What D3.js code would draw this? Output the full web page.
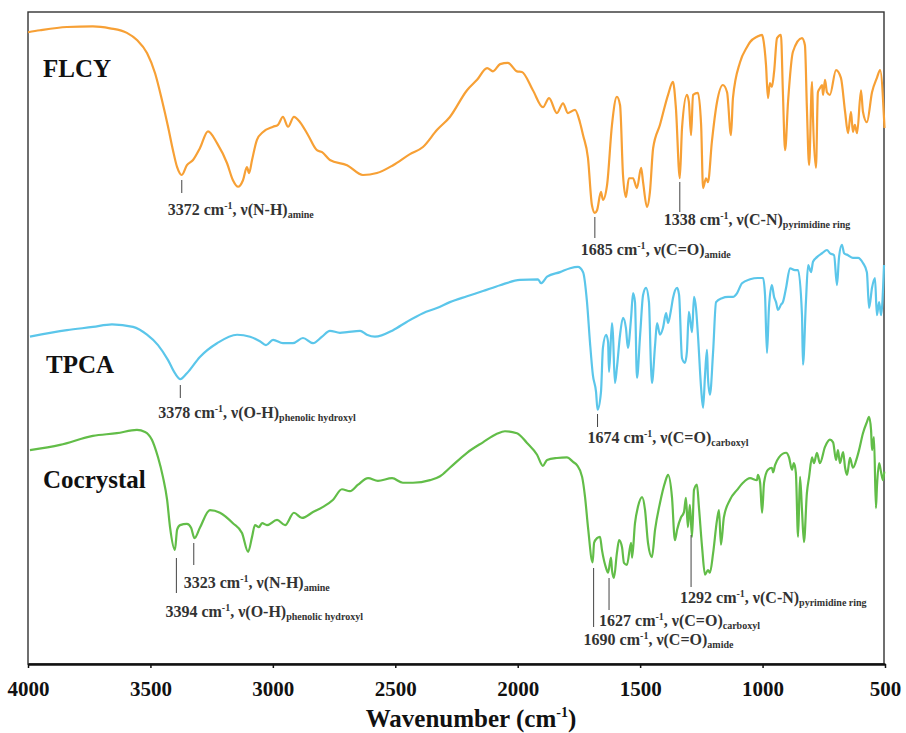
<!DOCTYPE html>
<html>
<head>
<meta charset="utf-8">
<script src="https://cdn.jsdelivr.net/npm/d3@7/dist/d3.min.js"></script>
<style>
  body { margin: 0; background: #fff; }
  svg text { font-family: "Liberation Serif", "Times New Roman", serif; font-weight: bold; }
</style>
</head>
<body>
<div id="chart"></div>
<script>
// FTIR spectra, [wavenumber (cm-1), transmittance (a.u., offset)]
const flcy = [
  [4000,96.9],[3951,97.2],[3841,97.7],[3735,97.8],[3665,97.5],[3596,96.8],[3555,95.7],[3514,93.7],
  [3481,90.6],[3453,86.5],[3428,82.4],[3408,78.8],[3391,76.2],[3372,75.0],[3351,76.5],[3326,77.3],
  [3298,79.1],[3265,81.7],[3228,79.9],[3187,76.8],[3163,74.2],[3142,73.2],[3122,74.2],[3106,76.2],
  [3097,75.3],[3085,77.3],[3065,80.4],[3040,81.6],[2999,82.4],[2979,82.7],[2959,83.9],[2938,82.4],
  [2914,83.9],[2889,83.1],[2856,81.1],[2820,78.8],[2799,78.5],[2767,77.3],[2697,76.5],[2632,75.0],
  [2575,75.3],[2509,76.5],[2440,78.2],[2387,79.3],[2330,81.9],[2277,83.9],[2207,88.0],[2166,89.6],
  [2125,91.4],[2101,90.9],[2072,92.0],[2040,92.2],[2003,90.9],[1983,90.8],[1938,88.0],[1897,85.4],
  [1872,86.8],[1840,84.5],[1815,86.0],[1795,84.5],[1766,85.0],[1746,83.1],[1733,81.1],[1713,77.6],
  [1697,70.4],[1685,69.2],[1676,69.6],[1660,72.4],[1652,71.2],[1635,73.5],[1615,82.7],[1595,87.0],
  [1582,85.7],[1570,75.0],[1558,71.6],[1546,74.5],[1529,74.5],[1513,73.0],[1496,76.1],[1488,73.9],
  [1472,70.1],[1460,72.4],[1447,79.1],[1419,82.7],[1386,87.3],[1366,89.3],[1354,85.3],[1338,74.5],
  [1329,82.2],[1309,87.3],[1301,86.2],[1292,81.1],[1284,87.3],[1264,87.6],[1251,82.7],[1243,73.0],
  [1231,74.5],[1223,73.9],[1207,80.1],[1186,86.2],[1162,88.8],[1145,87.7],[1129,81.1],[1121,86.8],
  [1092,92.3],[1064,94.6],[1051,95.4],[1023,96.2],[1002,96.5],[998,96.0],[986,91.9],[978,86.8],
  [970,89.1],[962,88.5],[953,90.8],[941,96.0],[925,96.5],[917,87.7],[908,78.8],[896,86.2],
  [876,93.9],[839,96.0],[827,94.9],[819,85.3],[810,76.5],[798,89.3],[794,83.7],[782,76.1],
  [774,87.7],[766,88.3],[757,88.8],[753,87.3],[745,89.6],[737,87.7],[725,87.3],[700,91.1],
  [680,89.9],[663,84.7],[651,81.4],[639,84.7],[631,81.6],[623,82.7],[614,81.4],[598,88.0],
  [590,84.7],[574,83.1],[553,87.7],[533,89.9],[520,91.1],[502,82.2]
];
const tpca = [
  [3992,50.2],[3841,51.2],[3735,51.7],[3657,52.1],[3571,51.7],[3514,50.5],[3469,48.9],[3428,46.6],
  [3400,44.6],[3378,43.7],[3351,44.6],[3298,47.1],[3228,49.2],[3146,50.5],[3093,50.2],[3053,49.5],
  [3028,48.9],[2999,49.7],[2959,49.2],[2918,49.2],[2877,50.0],[2836,49.2],[2799,50.2],[2767,51.1],
  [2726,50.8],[2697,50.9],[2644,51.1],[2616,50.5],[2583,50.2],[2509,51.2],[2452,52.5],[2387,53.8],
  [2330,54.6],[2277,55.5],[2207,56.4],[2142,57.2],[2072,58.1],[1991,58.9],[1917,59.0],[1905,58.4],
  [1880,59.4],[1827,60.1],[1786,60.7],[1754,60.9],[1733,60.1],[1717,55.5],[1705,49.4],[1693,44.3],
  [1680,41.7],[1674,39.0],[1660,41.7],[1652,48.5],[1639,50.5],[1631,49.4],[1627,44.8],[1615,52.3],
  [1611,50.5],[1603,43.1],[1595,45.4],[1582,50.5],[1570,53.1],[1558,51.5],[1550,48.5],[1537,53.1],
  [1529,56.9],[1521,55.5],[1513,43.9],[1500,50.5],[1488,56.6],[1476,57.7],[1464,55.5],[1456,45.9],
  [1452,43.1],[1439,48.9],[1431,52.3],[1419,50.5],[1407,51.5],[1394,53.8],[1386,52.3],[1374,54.3],
  [1366,56.1],[1349,57.7],[1341,56.6],[1329,46.9],[1317,46.2],[1309,47.9],[1301,54.0],[1288,50.9],
  [1280,56.3],[1272,54.6],[1264,50.5],[1251,42.3],[1243,39.3],[1235,44.3],[1227,48.2],[1223,43.9],
  [1215,41.3],[1202,47.9],[1190,55.5],[1166,56.1],[1141,56.3],[1121,56.3],[1104,56.9],[1084,58.4],
  [1051,59.0],[1019,59.2],[998,59.2],[990,56.6],[982,47.7],[974,54.6],[962,58.1],[953,56.3],
  [945,55.5],[937,54.3],[925,55.1],[917,55.5],[904,57.7],[888,60.7],[868,60.4],[855,60.4],
  [839,53.5],[835,45.9],[823,55.5],[814,61.2],[802,60.1],[794,61.7],[778,62.4],[757,63.0],
  [737,63.5],[725,63.0],[708,62.7],[696,58.1],[688,62.3],[676,64.3],[667,63.0],[651,62.7],
  [631,62.3],[610,62.3],[590,61.5],[574,60.1],[565,54.6],[553,57.7],[541,59.2],[533,53.5],
  [524,55.5],[516,53.5],[504,61.2]
];
const cocrystal = [
  [3992,32.8],[3869,33.6],[3735,35.0],[3637,35.4],[3555,35.9],[3522,35.6],[3494,34.4],[3469,31.7],
  [3449,28.7],[3432,25.2],[3420,21.0],[3400,17.5],[3391,20.6],[3379,21.3],[3351,21.5],[3334,20.9],
  [3320,19.3],[3298,20.9],[3257,23.6],[3216,23.2],[3163,21.6],[3126,20.1],[3101,17.2],[3085,19.5],
  [3073,21.3],[3057,21.0],[3044,21.6],[3024,21.3],[2983,22.1],[2950,21.3],[2914,23.2],[2881,22.4],
  [2836,23.3],[2795,24.1],[2754,25.2],[2718,26.8],[2685,26.5],[2652,27.5],[2611,28.5],[2571,28.1],
  [2513,28.5],[2469,27.8],[2428,27.8],[2358,28.2],[2317,28.8],[2277,30.1],[2207,32.4],[2142,34.0],
  [2085,35.3],[2052,35.7],[2003,35.4],[1962,33.9],[1921,32.1],[1897,30.4],[1880,31.3],[1840,31.6],
  [1799,31.7],[1774,31.0],[1758,30.5],[1737,28.7],[1725,25.6],[1713,21.0],[1694,15.6],[1688,18.6],
  [1676,19.3],[1664,19.5],[1656,17.5],[1639,14.7],[1631,14.0],[1619,16.3],[1615,14.4],[1607,13.2],
  [1595,17.0],[1586,19.0],[1574,17.9],[1566,15.5],[1554,15.2],[1537,18.6],[1533,16.3],[1521,21.6],
  [1509,24.1],[1492,25.6],[1480,23.6],[1468,18.6],[1452,16.4],[1439,20.6],[1419,24.7],[1398,27.9],
  [1386,29.0],[1370,25.6],[1358,19.0],[1349,20.6],[1333,22.5],[1321,23.3],[1313,25.5],[1305,21.0],
  [1297,24.4],[1288,19.5],[1280,26.7],[1268,27.5],[1260,24.1],[1247,17.9],[1235,13.7],[1223,14.4],
  [1215,14.0],[1202,17.0],[1186,22.1],[1178,23.6],[1170,18.3],[1158,22.5],[1133,25.2],[1104,26.7],
  [1080,27.8],[1051,28.5],[1023,28.2],[1019,29.0],[1010,27.8],[1002,23.2],[994,27.8],[978,29.8],
  [962,30.1],[957,29.4],[949,30.5],[933,31.7],[904,32.4],[892,31.7],[880,29.8],[872,30.8],
  [864,29.3],[855,19.5],[847,28.7],[839,23.6],[831,18.7],[819,26.2],[810,28.7],[798,31.7],
  [790,30.8],[778,32.4],[766,30.8],[745,33.3],[725,34.4],[712,34.0],[700,31.3],[692,32.8],
  [684,30.8],[671,32.5],[663,30.1],[655,29.0],[643,31.6],[631,30.1],[614,31.7],[606,32.8],
  [590,35.4],[574,37.1],[565,37.9],[557,35.9],[553,32.8],[545,34.8],[537,23.9],[533,27.1],
  [524,30.8],[516,29.4],[508,28.2],[503,29.5]
];

const seriesNames = ["FLCY", "TPCA", "Cocrystal"];
const seriesColors = ["#f7a035", "#5bc6ea", "#62bd48"];
const xTicks = [4000, 3500, 3000, 2500, 2000, 1500, 1000, 500];

// peak annotations: wavenumber, bond, subscript
const peaks = [
  {wn: 3372, bond: "N-H", sub: "amine"},
  {wn: 1685, bond: "C=O", sub: "amide"},
  {wn: 1338, bond: "C-N", sub: "pyrimidine ring"},
  {wn: 3378, bond: "O-H", sub: "phenolic hydroxyl"},
  {wn: 1674, bond: "C=O", sub: "carboxyl"},
  {wn: 3323, bond: "N-H", sub: "amine"},
  {wn: 3394, bond: "O-H", sub: "phenolic hydroxyl"},
  {wn: 1690, bond: "C=O", sub: "amide"},
  {wn: 1627, bond: "C=O", sub: "carboxyl"},
  {wn: 1292, bond: "C-N", sub: "pyrimidine ring"}
];
// layout of the annotation leaders (pixels): line top, line bottom, text baseline, text dx
const peakLayout = [
  [180, 193, 215, -14], [217, 238, 255, -14], [182, 212, 225, -16],
  [385, 398, 418, -22], [414, 427, 443, -10],
  [543, 565, 588, -10], [558, 593, 617, -11], [568, 627, 645, -10],
  [578, 610, 626, -10], [535, 587, 603, -11]
];
// series label positions (pixels)
const labelPos = [[43, 77], [46, 373], [43, 488]];

const size = {width: 906, height: 733};
const margin = {top: 12, right: 22, bottom: 69, left: 28};
const width = size.width - margin.left - margin.right;
const height = size.height - margin.top - margin.bottom;

const svg = d3.select("#chart").append("svg")
    .attr("width", size.width)
    .attr("height", size.height);

const x = d3.scaleLinear().domain([4000, 500]).range([margin.left, margin.left + width + 1]);
const y = d3.scaleLinear().domain([0, 100]).range([margin.top + height, margin.top]);

// frame
svg.append("rect")
    .attr("x", margin.left).attr("y", margin.top)
    .attr("width", width).attr("height", height)
    .attr("fill", "none").attr("stroke", "#333").attr("stroke-width", 1.4);

const line = d3.line().x(d => x(d[0])).y(d => y(d[1])).curve(d3.curveMonotoneX);

[flcy, tpca, cocrystal].forEach((data, i) => {
    svg.append("path")
        .datum(data)
        .attr("fill", "none")
        .attr("stroke", seriesColors[i])
        .attr("stroke-width", 2.2)
        .attr("stroke-linejoin", "round")
        .attr("d", line);
});

// x axis
const xAxis = svg.append("g")
    .attr("transform", `translate(0,${margin.top + height})`)
    .call(d3.axisBottom(x).tickValues(xTicks).tickFormat(d3.format("d"))
        .tickSize(4).tickSizeOuter(0).tickPadding(13));
xAxis.attr("font-family", null);
xAxis.select(".domain").attr("stroke", "#111").attr("stroke-width", 2.5);
xAxis.selectAll(".tick line").attr("stroke", "#111").attr("stroke-width", 1.5);
xAxis.selectAll(".tick text")
    .attr("font-size", 21).attr("fill", "#111");

// rich text helper: parts = [text, size, baseline shift]
function richText(sel, px, py, parts, fill) {
    const t = sel.append("text").attr("x", px).attr("y", py).attr("fill", fill);
    let prev = 0;
    parts.forEach(([s, fs, shift]) => {
        t.append("tspan").attr("font-size", fs).attr("dy", shift - prev).text(s);
        prev = shift;
    });
    return t;
}

// axis title
richText(svg, 0, 727, [["Wavenumber (cm", 25, 0], ["-1", 14, -10], [")", 25, 0]], "#111")
    .attr("x", margin.left + width / 2 + 15).attr("text-anchor", "middle");

// series labels
seriesNames.forEach((name, i) => {
    svg.append("text")
        .attr("x", labelPos[i][0]).attr("y", labelPos[i][1])
        .attr("font-size", 25).attr("fill", "#111")
        .text(name);
});

// peak annotations
peaks.forEach((p, i) => {
    const [y1, y2, ty, dx] = peakLayout[i];
    const px = x(p.wn);
    svg.append("line")
        .attr("x1", px).attr("x2", px).attr("y1", y1).attr("y2", y2)
        .attr("stroke", "#444").attr("stroke-width", 1);
    richText(svg, px + dx, ty, [
        [`${p.wn} cm`, 16, 0], ["-1", 10, -6], [`, ν(${p.bond})`, 16, 0], [p.sub, 10, 3]
    ], "#333");
});
</script>
</body>
</html>
